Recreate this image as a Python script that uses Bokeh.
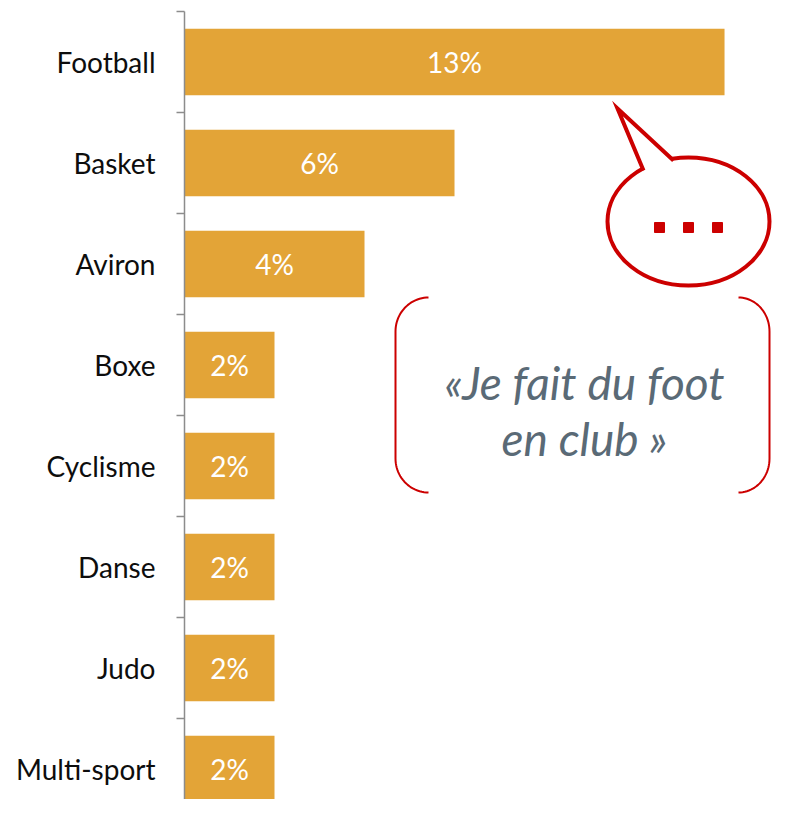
import numpy as np
from bokeh.plotting import figure
from bokeh.models import Range1d, FixedTicker
from bokeh.core.properties import value
from bokeh.embed import file_html
from bokeh.resources import INLINE

categories = ["Football", "Basket", "Aviron", "Boxe", "Cyclisme", "Danse", "Judo", "Multi-sport"]
values = [12.6, 6.3, 4.2, 2.1, 2.1, 2.1, 2.1, 2.1]
labels = ["13%", "6%", "4%", "2%", "2%", "2%", "2%", "2%"]
quote_lines = ["«Je fait du foot", "en club »"]

BAR = "#E3A437"
RED = "#CC0000"
AXIS = "#8C8C8C"
FONT = "Lato"

W, H = 772, 799
LEFT, TOP = 184, 11
FW, FH = W - LEFT, H - TOP
n = len(categories)
K = 42.86          # px per percent unit
KY = 101.0         # px per category
XMAX = FW / K
YMAX = FH / KY

p = figure(width=W, height=H, output_backend="svg", toolbar_location=None,
           x_range=Range1d(0, XMAX), y_range=Range1d(YMAX, 0),
           x_axis_location=None, min_border_left=LEFT, min_border_top=TOP,
           min_border_bottom=0, min_border_right=0)
p.outline_line_color = None
p.xgrid.visible = False
p.ygrid.visible = False
p.background_fill_color = "white"

ypos = np.arange(n) + 0.5
p.yaxis.ticker = FixedTicker(ticks=list(ypos), minor_ticks=list(range(n + 1)))
p.yaxis.major_label_overrides = {float(y): c for y, c in zip(ypos, categories)}
p.yaxis.major_tick_out = 0
p.yaxis.major_tick_in = 0
p.yaxis.minor_tick_out = 8
p.yaxis.minor_tick_in = 0
p.yaxis.minor_tick_line_color = AXIS
p.yaxis.minor_tick_line_width = 1.5
p.yaxis.axis_line_color = AXIS
p.yaxis.axis_line_width = 1.5
p.yaxis.major_label_text_font = FONT
p.yaxis.major_label_text_font_size = "28px"
p.yaxis.major_label_text_color = "#0D0D0D"
p.yaxis.major_label_standoff = 21

p.hbar(y=ypos, left=0, right=values, height=0.66, color=BAR, line_color=None)
p.text(x=np.array(values) / 2, y=ypos, text=labels, text_color="white",
       text_font=value(FONT), text_font_size="28px", text_align="center",
       text_baseline="middle")

# helpers: screen px -> data
def dx(sx):
    return (np.asarray(sx, dtype=float) - LEFT) / K
def dy(sy):
    return (np.asarray(sy, dtype=float) - TOP) / KY

# speech bubble
cx, cy = 688, 221
p.ellipse(x=dx(cx), y=dy(cy), width=162, height=128, width_units="screen",
          height_units="screen", fill_color="white", line_color=RED, line_width=4)
p.patch(x=dx([645, 617, 674, 670]), y=dy([174, 108, 163, 172]), fill_color="white", line_color=None)
p.line(x=dx([643, 617, 673]), y=dy([170, 108, 160]), line_color=RED, line_width=4, line_join="miter")
p.scatter(x=dx([659, 688, 717]), y=dy([227, 227, 227]), marker="square", size=10,
          color=RED)

# brackets
def bracket(xv, xe, ytop, ybot, r):
    s = 1 if xe > xv else -1
    w = abs(xe - xv)
    ang = np.linspace(np.pi / 2, np.pi, 24)
    tx = xe + s * w * np.cos(ang)
    ty = ytop + r - r * np.sin(ang)
    ang2 = np.linspace(np.pi, 3 * np.pi / 2, 24)
    bx = xe + s * w * np.cos(ang2)
    by = ybot - r - r * np.sin(ang2)
    return np.concatenate([tx, bx]), np.concatenate([ty, by])

lx, ly = bracket(395, 428, 297, 492, 34)
p.line(x=dx(lx), y=dy(ly), line_color=RED, line_width=2)
rx, ry = bracket(769, 738, 297, 492, 34)
p.line(x=dx(rx), y=dy(ry), line_color=RED, line_width=2)

p.text(x=dx([584, 584]), y=dy([382, 438]), text=quote_lines, text_color="#5A6A76",
       text_font=value(FONT), text_font_style="italic", text_font_size="46px",
       text_align="center", text_baseline="alphabetic")

open("out.html", "w").write(file_html(p, INLINE))
